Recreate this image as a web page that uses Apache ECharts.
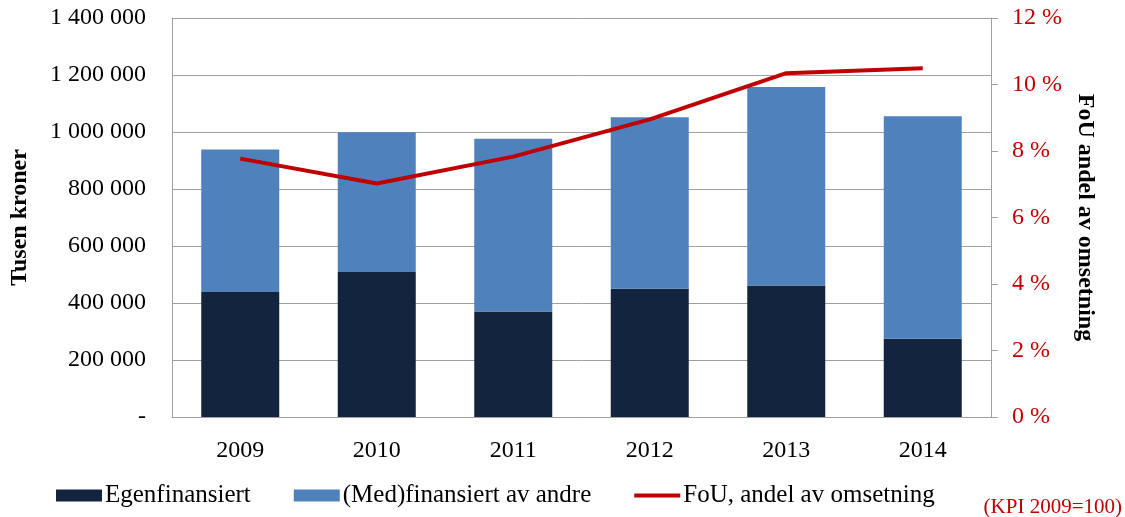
<!DOCTYPE html>
<html>
<head>
<meta charset="utf-8">
<script src="https://cdn.jsdelivr.net/npm/echarts@6/dist/echarts.min.js"></script>
<style>
  html, body { margin: 0; padding: 0; background: #fff; }
  #chart { width: 1125px; height: 517px; }
</style>
</head>
<body>
<div id="chart"></div>
<script>
var years = ['2009', '2010', '2011', '2012', '2013', '2014']
var egenfinansiert = [439000, 509000, 370000, 450000, 461000, 275000]
var medfinansiert = [500000, 490000, 606000, 602000, 697000, 780000]
var fouAndel = [7.77, 7.02, 7.83, 8.95, 10.34, 10.49]

var font = 'Liberation Serif, Times New Roman, serif'
var red = '#c00000'
var grey = '#a0a0a0'

function kroner(v) {
  if (v === 0) return '-'
  return String(v).replace(/\B(?=(\d{3})+(?!\d))/g, ' ')
}

var chart = echarts.init(document.getElementById('chart'))

chart.setOption({
  backgroundColor: '#fff',
  animation: false,
  textStyle: { fontFamily: font },
  grid: { left: 172, right: 134, top: 18, bottom: 100 },
  legend: {
    left: 56,
    top: 483,
    padding: 0,
    itemGap: 43,
    itemWidth: 46,
    itemHeight: 12,
    symbolKeepAspect: true,
    textStyle: { fontFamily: font, fontSize: 25, color: '#000', padding: [0, 0, 0, -2] },
    data: [
      { name: 'Egenfinansiert', icon: 'rect' },
      { name: '(Med)finansiert av andre', icon: 'rect' },
      { name: 'FoU, andel av omsetning', icon: 'path://M0,0 L46,0 L46,4 L0,4 Z' }
    ]
  },
  graphic: [{
    type: 'text',
    right: 3,
    top: 497,
    style: { text: '(KPI 2009=100)', font: '21px ' + font, fill: red }
  }],
  xAxis: {
    type: 'category',
    data: years,
    axisLine: { lineStyle: { color: grey } },
    axisTick: { show: false },
    axisLabel: { fontSize: 24, color: '#000', margin: 22, fontFamily: font }
  },
  yAxis: [{
    type: 'value',
    min: 0,
    max: 1400000,
    interval: 200000,
    name: 'Tusen kroner',
    nameLocation: 'middle',
    nameGap: 140,
    nameTextStyle: { fontSize: 24, fontWeight: 'bold', color: '#000', fontFamily: font },
    axisLine: { show: true, lineStyle: { color: grey } },
    axisTick: { show: false },
    splitLine: { lineStyle: { color: grey } },
    axisLabel: { fontSize: 24, color: '#000', margin: 26, fontFamily: font, formatter: kroner }
  }, {
    type: 'value',
    min: 0,
    max: 12,
    interval: 2,
    position: 'right',
    name: 'FoU andel av omsetning',
    nameLocation: 'middle',
    nameRotate: -90,
    nameGap: 80,
    nameTextStyle: { fontSize: 24, fontWeight: 'bold', color: '#000', fontFamily: font },
    axisLine: { show: true, lineStyle: { color: grey } },
    axisTick: { show: true, length: 7, lineStyle: { color: grey } },
    splitLine: { show: false },
    axisLabel: { fontSize: 24, color: red, margin: 21, fontFamily: font, formatter: '{value} %' }
  }],
  series: [{
    name: 'Egenfinansiert',
    type: 'bar',
    stack: 'total',
    barWidth: 78,
    itemStyle: { color: '#13243f' },
    data: egenfinansiert
  }, {
    name: '(Med)finansiert av andre',
    type: 'bar',
    stack: 'total',
    barWidth: 78,
    itemStyle: { color: '#4f81bd' },
    data: medfinansiert
  }, {
    name: 'FoU, andel av omsetning',
    type: 'line',
    yAxisIndex: 1,
    symbol: 'none',
    lineStyle: { color: red, width: 4 },
    itemStyle: { color: red },
    data: fouAndel
  }]
})
</script>
</body>
</html>
